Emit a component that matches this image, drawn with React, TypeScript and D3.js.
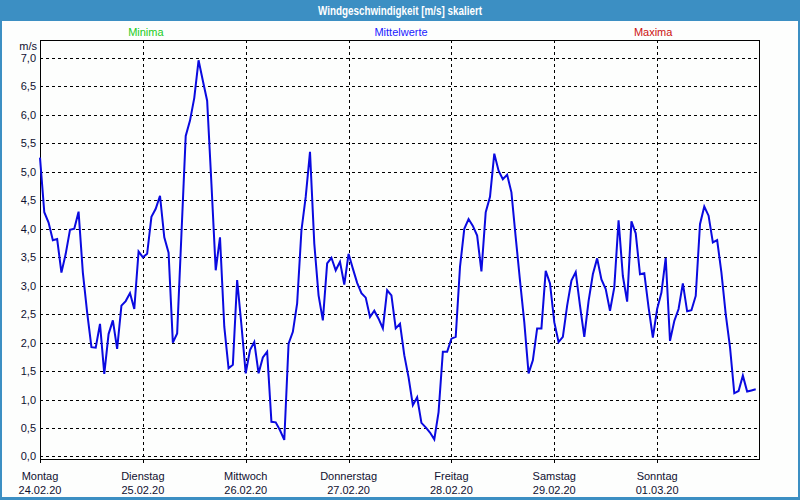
import React from "react";
import * as d3 from "d3";

const title = "Windgeschwindigkeit [m/s] skaliert";
const legendLabels = ["Minima", "Mittelwerte", "Maxima"];
const legendColors = ["#22cc22", "#1a1aff", "#cc1111"];
const dayNames = ["Montag", "Dienstag", "Mittwoch", "Donnerstag", "Freitag", "Samstag", "Sonntag"];
const dayDates = ["24.02.20", "25.02.20", "26.02.20", "27.02.20", "28.02.20", "29.02.20", "01.03.20"];
const yTicks = [0, 0.5, 1, 1.5, 2, 2.5, 3, 3.5, 4, 4.5, 5, 5.5, 6, 6.5, 7];
const hoursPerDay = 24;
const totalHours = 168;

// hourly mean wind speed (m/s)
const windMean = [
  5.25, 4.29, 4.11, 3.8, 3.82, 3.23, 3.56, 3.98, 4.0, 4.3, 3.23, 2.53, 1.92, 1.91, 2.33, 1.45, 2.15, 2.39, 1.89, 2.65, 2.73, 2.87, 2.59, 3.6,
  3.5, 3.56, 4.21, 4.35, 4.58, 3.85, 3.58, 2.0, 2.16, 3.9, 5.63, 5.9, 6.3, 6.96, 6.6, 6.25, 4.79, 3.27, 3.85, 2.28, 1.55, 1.61, 3.1, 2.31,
  1.46, 1.87, 2.01, 1.46, 1.74, 1.84, 0.61, 0.6, 0.46, 0.29, 1.98, 2.19, 2.69, 3.97, 4.56, 5.35, 3.74, 2.83, 2.39, 3.39, 3.49, 3.27, 3.42, 3.02,
  3.56, 3.3, 3.05, 2.87, 2.79, 2.45, 2.56, 2.42, 2.25, 2.92, 2.83, 2.25, 2.33, 1.78, 1.39, 0.9, 1.04, 0.59, 0.51, 0.42, 0.3, 0.78, 1.84, 1.84,
  2.07, 2.1, 3.33, 4.0, 4.17, 4.05, 3.88, 3.25, 4.29, 4.56, 5.32, 5.02, 4.87, 4.95, 4.64, 3.85, 3.09, 2.36, 1.46, 1.69, 2.25, 2.25, 3.26, 3.04,
  2.36, 2.01, 2.1, 2.65, 3.09, 3.24, 2.65, 2.1, 2.73, 3.2, 3.48, 3.11, 2.94, 2.56, 2.97, 4.15, 3.17, 2.72, 4.13, 3.92, 3.2, 3.22, 2.62, 2.09,
  2.59, 2.88, 3.49, 2.03, 2.38, 2.59, 3.04, 2.55, 2.57, 2.82, 4.08, 4.39, 4.23, 3.76, 3.8, 3.23, 2.5, 1.92, 1.11, 1.15, 1.42, 1.14, 1.16, 1.18,
];

const W = 800;
const H = 500;
const L = 40, R = 760, T = 40, B = 460;
const FONT = "'Liberation Sans', Arial, sans-serif";

export default function App() {
  const x = d3.scaleLinear().domain([0, totalHours]).range([L, R]);
  const y = d3.scaleLinear().domain([-0.062, 7.316]).range([B, T]);
  const line = d3
    .line<number>()
    .x((_, i) => x(i))
    .y((d) => y(d));
  const dayIdx = dayNames.map((_, i) => i);
  const crisp = (v: number) => Math.round(v) + 0.5;

  return (
    <svg
      width={W}
      height={H}
      style={{ position: "absolute", left: 0, top: 0, display: "block" }}
      fontFamily={FONT}
    >
      <rect x={0} y={0} width={W} height={H} fill="#3c8fc3" />
      <rect x={2} y={21} width={W - 4} height={H - 24} fill="#fdfefd" />
      <text x={400} y={15} textAnchor="middle" fill="#ffffff" fontWeight="bold" fontSize={12.5} textLength={164} lengthAdjust="spacingAndGlyphs">
        {title}
      </text>
      {legendLabels.map((l, i) => (
        <text key={l} x={[x(24) + 3, 401, x(144) - 4][i]} y={35.5} textAnchor="middle" fill={legendColors[i]} fontSize={11}>
          {l}
        </text>
      ))}
      {/* horizontal grid */}
      {yTicks.map((t) => (
        <line key={"h" + t} x1={L} x2={R} y1={crisp(y(t))} y2={crisp(y(t))} stroke="#000" strokeWidth={1} strokeDasharray="3,3" />
      ))}
      {/* vertical grid */}
      {dayIdx.slice(1).map((d) => (
        <line key={"v" + d} x1={crisp(x(d * hoursPerDay))} x2={crisp(x(d * hoursPerDay))} y1={T} y2={B} stroke="#000" strokeWidth={1} strokeDasharray="3,3" />
      ))}
      {/* bottom ticks */}
      {dayIdx.map((d) => (
        <line key={"t" + d} x1={crisp(x(d * hoursPerDay))} x2={crisp(x(d * hoursPerDay))} y1={B} y2={B + 3} stroke="#000" strokeWidth={1} />
      ))}
      <rect x={L + 0.5} y={T + 0.5} width={R - L - 1} height={B - T - 1} fill="none" stroke="#000" strokeWidth={1} />
      {/* y labels */}
      {yTicks.map((t) => (
        <text key={"yl" + t} x={36} y={y(t) + 4} textAnchor="end" fontSize={11} fill="#101030">
          {t.toFixed(1).replace(".", ",")}
        </text>
      ))}
      <text x={37} y={50} textAnchor="end" fontSize={11} fill="#101030">m/s</text>
      {/* x labels */}
      {dayIdx.map((d) => (
        <g key={"xl" + d}>
          <text x={x(d * hoursPerDay)} y={480} textAnchor="middle" fontSize={11} fill="#101030">
            {dayNames[d]}
          </text>
          <text x={x(d * hoursPerDay)} y={494} textAnchor="middle" fontSize={11} fill="#101030">
            {dayDates[d]}
          </text>
        </g>
      ))}
      <path d={line(windMean) || ""} fill="none" stroke="#0a0ae0" strokeWidth={2} strokeLinejoin="miter" />
    </svg>
  );
}
